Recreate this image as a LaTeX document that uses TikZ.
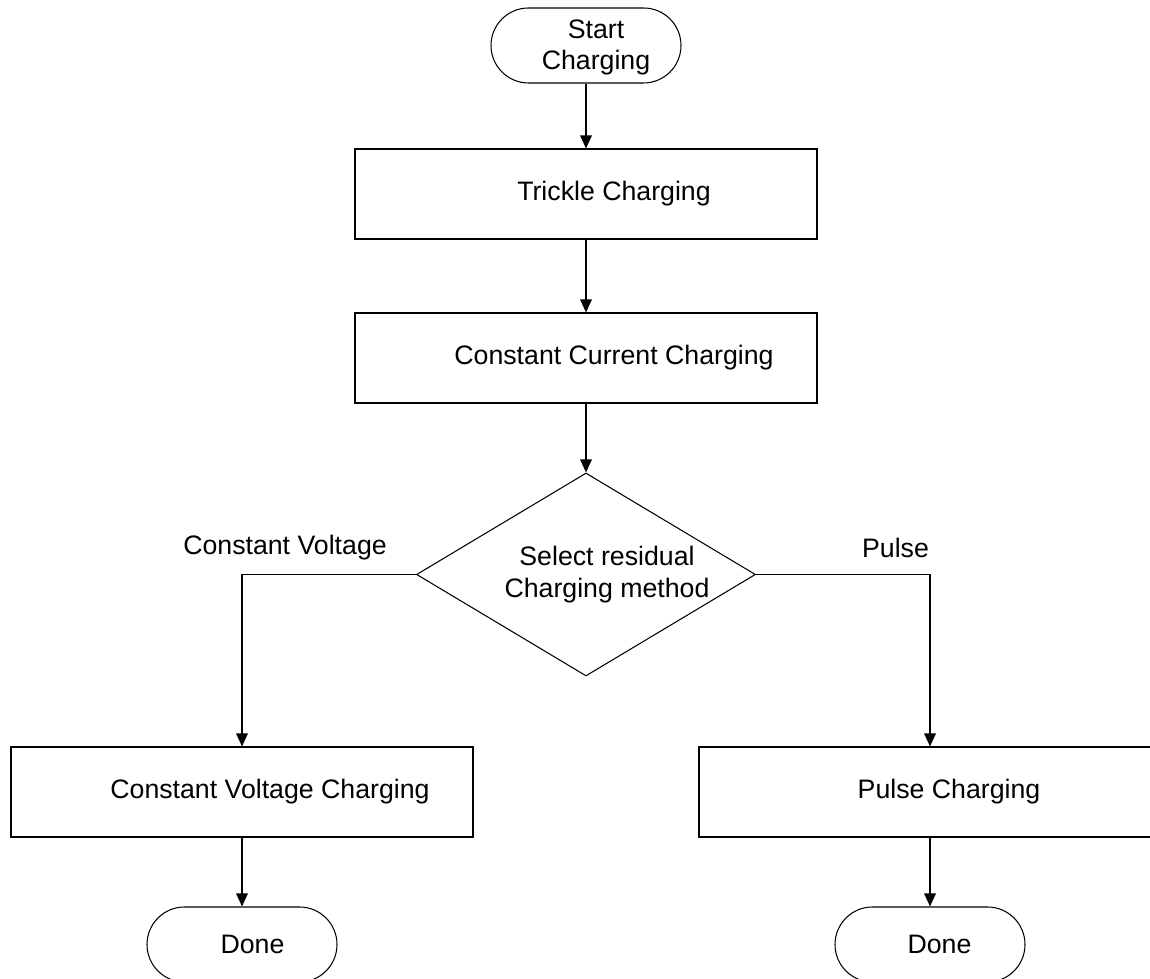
\documentclass[tikz,border=0pt]{standalone}
\usepackage{fontspec}
\setmainfont{Liberation Sans}
\usetikzlibrary{arrows.meta,shapes.geometric}

\begin{document}
\begin{tikzpicture}[
    font=\fontsize{15.2}{17.8}\selectfont,
    box/.style={draw,line width=0.6pt,minimum width=9.24cm,minimum height=1.8cm,inner sep=0pt},
    term/.style={draw,line width=0.6pt,rounded corners=0.75cm,minimum width=3.8cm,minimum height=1.5cm,inner sep=0pt},
    decide/.style={draw,diamond,line width=0.6pt,minimum width=6.78cm,minimum height=4.06cm,inner sep=0pt},
    txt/.style={align=center,inner sep=0pt},
    flow/.style={line width=1pt,-{Triangle[length=0.26cm,width=0.23cm]}}
  ]
  \useasboundingbox (0,0) rectangle (23,19.58);
  % Main charging stages
  \node[term,label={[txt,xshift=0.2cm,yshift=-0.04cm]center:Start\\Charging}] (start) at (11.72,18.67) {};
  \node[box,label={[txt,xshift=0.56cm]center:Trickle Charging}] (trickle) at (11.72,15.70) {};
  \node[box,label={[txt,xshift=0.56cm]center:Constant Current Charging}] (cc) at (11.72,12.42) {};
  \node[decide,label={[txt,xshift=0.42cm]center:Select residual\\Charging method}] (select) at (11.72,8.09) {};
  % Residual charging branches
  \node[box,label={[txt,xshift=0.56cm]center:Constant Voltage Charging}] (cv) at (4.84,3.74) {};
  \node[box,label={[txt,xshift=0.38cm]center:Pulse Charging}] (pulse) at (18.60,3.74) {};
  \node[term,label={[txt,xshift=0.21cm]center:Done}] (doneL) at (4.84,0.69) {};
  \node[term,label={[txt,xshift=0.19cm]center:Done}] (doneR) at (18.60,0.69) {};
  % Branch labels
  \node[txt] (cvlabel) at (5.70,8.62) {Constant Voltage};
  \node[txt] (pulselabel) at (17.91,8.62) {Pulse};
  % Arrows
  \draw[flow] (start) -- (trickle);
  \draw[flow] (trickle) -- (cc);
  \draw[flow] (cc) -- (select);
  \draw[flow] (select.west) -| (cv.north);
  \draw[flow] (select.east) -| (pulse.north);
  \draw[flow] (cv) -- (doneL);
  \draw[flow] (pulse) -- (doneR);
\end{tikzpicture}
\end{document}
